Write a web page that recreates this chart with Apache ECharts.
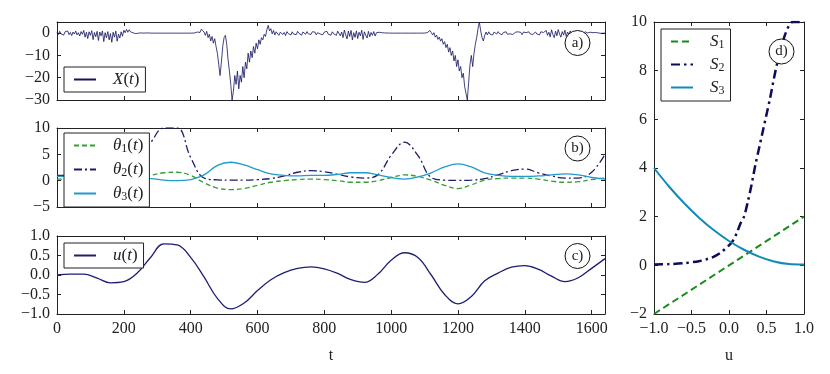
<!DOCTYPE html>
<html><head><meta charset="utf-8">
<script src="https://cdn.jsdelivr.net/npm/echarts@6/dist/echarts.min.js"></script>
<style>html,body{margin:0;padding:0;background:#fff}#c{width:830px;height:374px}</style>
</head><body><div id="c"></div>
<script>
// ---------- data ----------
const xSignalStep = 4; // sample spacing in t
const xSignal = [
 0.4,-0.6,0.8,-0.3,0.2,-0.9,0.6,-0.2,1.0,-0.7,0.3,-1.1,0.5,-0.4,0.9,-0.8,
 0.2,-1.3,0.7,-0.5,1.2,-1.8,0.4,-2.4,0.6,-1.0,1.1,-2.9,0.3,-1.6,0.8,-3.3,
 0.5,-1.2,1.0,-3.8,0.2,-2.1,0.7,-3.0,-0.2,-4.1,0.4,-1.8,0.9,-3.6,-0.5,-2.2,
 0.6,-1.4,1.3,0.2,1.7,0.4,1.5,0.6,1.0,0.1,0.7,-0.2,0.5,0.0,0.4,0.1,
 0.3,0.0,0.2,0.1,0.15,0.05,0.1,0.0,0.08,0.02,0.05,0.0,0.03,0.0,0.02,0.0,
 0.01,0,0.01,0,0,0.01,0,0,0.01,0,0,0,0.01,0,0,0,
 0,0.01,0,0,0.02,0,0.05,0.1,0.2,
 0.5,1.0,0.3,1.8,2.2,0.5,-1.0,0.8,-2.0,-0.5,
 -3.5,-1.5,-4.5,-2.5,-6.0,-9.0,-14.0,-19.0,-13.0,-6.0,
 -2.0,-1.0,-5.0,-12.0,-17.0,-23.0,-30.0,-26.0,-19.0,-23.0,
 -17.0,-25.0,-19.0,-22.0,-15.0,-20.0,-13.0,-16.0,-9.0,-13.0,
 -8.0,-11.0,-6.0,-9.0,-4.5,-7.0,-3.0,-5.0,-2.0,-3.0,
 -0.5,-1.5,1.5,3.5,1.0,
 2.0,-0.3,1.2,-0.8,0.6,1.0,-1.0,0.4,0.9,-0.6,0.3,-1.1,0.7,-0.2,0.5,-0.8,
 0.6,-0.4,0.2,-0.7,0.8,-0.1,0.4,-0.9,0.5,0.0,-0.5,0.7,-0.3,0.3,-0.6,0.6,
 -0.2,0.5,-0.8,0.2,0.6,-0.4,0.1,-0.7,0.5,-0.2,0.8,-0.5,0.3,-0.9,0.6,-0.3,
 0.4,-1.0,0.9,1.6,-1.2,0.5,-2.0,1.4,-0.8,-2.6,0.9,-1.5,1.2,-3.0,0.2,-1.9,
 1.0,-2.4,0.4,-1.2,1.3,-2.8,0.6,-0.9,-2.2,0.8,-1.6,0.3,-1.0,0.7,-1.3,0.2,
 -0.6,0.4,-0.3,0.2,-0.2,0.1,0.0,0.05,
 0,0.02,0,0.01,0,0,0.01,0,0,0.01,0,0,0,0.01,0,0,0,0.01,0,0,0,0.01,0,0,0.02,0,0.03,0.05,0.1,0.2,
 0.5,1.2,0.3,-0.8,0.2,-1.8,-0.9,-2.8,-1.8,-3.6,
 -2.5,-5.0,-3.8,-6.5,-5.0,-8.5,-6.5,-10.0,-8.0,-12.5,
 -10.0,-15.0,-12.0,-17.0,-15.0,-20.0,-18.0,-24.0,-27.0,-30.0,
 -22.0,-14.0,-10.0,-15.0,-9.0,-5.0,-2.0,2.0,5.0,1.0,
 -2.0,-3.5,-1.0,0.5,-0.8,
 0.6,-0.5,0.3,-0.8,0.5,0.0,-0.4,0.7,-0.2,0.4,-0.7,0.3,-0.1,0.6,-0.5,0.2,
 -0.3,0.5,-0.6,0.1,0.4,-0.4,0.6,-0.2,0.3,-0.7,0.5,-0.1,0.2,-0.5,0.6,-0.3,
 0.4,-0.6,0.2,0.5,-0.4,0.1,-0.8,0.6,-0.2,0.3,-0.5,1.2,-1.0,0.4,-1.7,1.5,
 -0.6,-2.0,0.9,-1.2,1.6,-0.4,-1.8,0.7,-0.9,1.3,-1.5,0.5,-0.6,1.0,-1.1,0.3,
 -0.4,0.8,-0.7,0.2,0.5,-0.5,0.3,-0.3,0.6,-0.2,0.1,-0.4,0.4,-0.1,0.2,-0.3,
 0.3,-0.2,0.1,0.2,-0.1,0.1,0.0,0.0
];
const tGrid = [0,40,80,120,160,200,240,280,320,360,400,440,480,520,560,600,640,680,720,760,800,
  840,880,920,960,1000,1040,1080,1120,1160,1200,1240,1280,1320,1360,1400,1440,1480,1520,1560,1600,1640];
const theta1 = [0.3,0.3,0.2,0.1,0.0,0.2,0.6,1.0,1.5,1.6,1.0,-0.4,-1.4,-1.7,-1.5,-0.9,-0.3,0.0,0.2,0.3,0.2,
  0.0,-0.3,-0.3,0.0,0.6,1.1,0.8,0.1,-0.9,-1.5,-0.8,0.1,0.4,0.5,0.5,0.3,-0.1,-0.3,-0.2,0.2,0.5];
const theta2 = [1.0,1.0,1.0,1.1,1.4,2.2,4.0,7.2,10,10,4.4,0.5,0.15,0.1,0.1,0.2,0.4,0.9,1.6,1.9,1.7,
  1.2,0.7,0.5,1.1,4.8,7.3,4.8,0.6,0.1,0.05,0.1,0.4,1.1,1.9,2.2,1.5,0.9,0.5,0.5,1.6,5.0];
const theta3 = [0.8,0.8,0.7,0.6,0.5,0.4,0.3,0.4,0.1,0.0,0.2,1.1,2.9,3.5,3.0,2.1,1.3,1.0,0.9,1.0,1.0,
  1.2,1.5,1.5,1.1,0.6,0.3,0.7,1.5,2.6,3.2,2.6,1.5,1.0,0.8,0.8,0.9,1.1,1.3,1.1,0.6,0.3];
const uVals = [0.0,0.02,0.02,-0.08,-0.2,-0.17,0.05,0.45,0.8,0.77,0.45,-0.05,-0.6,-0.87,-0.72,-0.4,-0.12,0.06,0.17,0.21,0.16,
  0.04,-0.12,-0.19,0.02,0.38,0.57,0.45,0.0,-0.5,-0.74,-0.55,-0.15,0.05,0.2,0.24,0.15,-0.03,-0.17,-0.07,0.17,0.42];
const s1U = [-1, 1];
const s1 = [-2, 2];
const s2U = [-1,-0.8,-0.6,-0.4,-0.3,-0.2,-0.1,0,0.05,0.1,0.15,0.2,0.25,0.3,0.35,0.4,0.45,0.5,0.55,0.6,0.65,0.7,0.75,0.8,0.85,1.0];
const s2 = [0.03,0.05,0.09,0.17,0.25,0.36,0.55,0.82,1.0,1.3,1.7,2.0,2.6,3.3,4.1,4.8,5.5,6.2,6.9,7.7,8.4,9.0,9.5,9.85,10,10];
const s3U = [-1,-0.8,-0.6,-0.4,-0.2,0,0.2,0.4,0.6,0.8,1.0];
const s3 = [4.0,3.24,2.56,1.96,1.44,1.0,0.64,0.36,0.16,0.05,0.03];
const panelTags = ['a)','b)','c)','d)'];

// ---------- chart ----------
const FONT = 'Liberation Serif';
const AX = '#222';
const minus = s => s.replace('-', '\u2212');
const fmtInt = v => minus(String(v));
const fmt1 = v => minus(v.toFixed(1));
const zip = (a, b) => a.map((v, i) => [v, b[i]]);

function xPair(g, min, max, interval, labels, fmt, name, hideMax) {
  const base = {type:'value', gridIndex:g, min, max, interval, splitLine:{show:false},
    axisLine:{show:true, onZero:false, lineStyle:{color:AX, width:1}},
    axisTick:{show:true, inside:true, length:4, lineStyle:{color:AX}}};
  return [Object.assign({}, base, {position:'bottom',
      axisLabel:{show:labels, formatter:fmt, fontFamily:FONT, fontSize:16, color:'#222', margin:7, showMaxLabel:!hideMax},
      name:name||'', nameLocation:'middle', nameGap:34, nameTextStyle:{fontFamily:FONT, fontSize:16, color:'#222'}}),
    Object.assign({}, base, {position:'top', axisLabel:{show:false}})];
}
function yPair(g, min, max, interval, fmt, hideMax) {
  const base = {type:'value', gridIndex:g, min, max, interval, splitLine:{show:false},
    axisLine:{show:true, onZero:false, lineStyle:{color:AX, width:1}},
    axisTick:{show:true, inside:true, length:4, lineStyle:{color:AX}}};
  return [Object.assign({}, base, {position:'left',
      axisLabel:{show:true, formatter:fmt, fontFamily:FONT, fontSize:16, color:'#222', margin:7, showMaxLabel:!hideMax}}),
    Object.assign({}, base, {position:'right', axisLabel:{show:false}})];
}

const xAxis = [].concat(
  xPair(0, 0, 1640, 200, false, fmtInt, '', true),
  xPair(1, 0, 1640, 200, false, fmtInt, '', true),
  xPair(2, 0, 1640, 200, true, fmtInt, 't', true),
  xPair(3, -1, 1, 0.5, true, fmt1, 'u', false)
);
const yAxis = [].concat(
  yPair(0, -30, 5, 10, fmtInt, true),
  yPair(1, -5, 10, 5, fmtInt, false),
  yPair(2, -1, 1, 0.5, fmt1, false),
  yPair(3, -2, 10, 2, fmtInt, false)
);

function line(name, g, data, color, width, type) {
  return {name, type:'line', xAxisIndex:2*g, yAxisIndex:2*g, data, symbol:'none', showSymbol:false,
    smooth: false, clip:true, animation:false,
    lineStyle:{color, width, type: type || 'solid'}, itemStyle:{color}};
}

const sigData = xSignal.map((v, i) => [i * xSignalStep, v]);
const series = [
  line('X(t)', 0, sigData, '#12125e', 0.8),
  Object.assign(line('θ1(t)', 1, zip(tGrid, theta1), '#33a033', 1.3, [5,3]), {smooth:0.4}),
  Object.assign(line('θ2(t)', 1, zip(tGrid, theta2), '#1c1c6a', 1.3, [8,3,2,3]), {smooth:0.4}),
  Object.assign(line('θ3(t)', 1, zip(tGrid, theta3), '#1f9bcc', 1.3), {smooth:0.4}),
  Object.assign(line('u(t)', 2, zip(tGrid, uVals), '#1e1e72', 1.3), {smooth:0.4}),
  line('S1', 3, zip(s1U, s1), '#198c19', 2, [7,4]),
  Object.assign(line('S2', 3, zip(s2U, s2), '#0c0c5a', 2.5, [9,4,2.5,4]), {smooth:0.3}),
  Object.assign(line('S3', 3, zip(s3U, s3), '#128ab8', 2), {smooth:0.3})
];

const labelRich = {
  i:{fontFamily:FONT, fontStyle:'italic', fontSize:17, color:'#222'},
  n:{fontFamily:FONT, fontSize:17, color:'#222'},
  s:{fontFamily:FONT, fontSize:12, color:'#222', padding:[7,0,0,0]},
  g:{width:12}
};
const legendText = {
  'X(t)':'{g|}{i|X}{n|(}{i|t}{n|)}',
  'θ1(t)':'{g|}{i|θ}{s|1}{n|(}{i|t}{n|)}',
  'θ2(t)':'{g|}{i|θ}{s|2}{n|(}{i|t}{n|)}',
  'θ3(t)':'{g|}{i|θ}{s|3}{n|(}{i|t}{n|)}',
  'u(t)':'{g|}{i|u}{n|(}{i|t}{n|)}',
  'S1':'{g|}{i|S}{s|1}',
  'S2':'{g|}{i|S}{s|2}',
  'S3':'{g|}{i|S}{s|3}'
};
function legend(names, left, top, gap) {
  return {data:names, orient:'vertical', left, top, itemWidth:22, itemHeight:10, itemGap:gap,
    padding:[4,6,4,9], borderColor:'#222', borderWidth:1, borderRadius:0, backgroundColor:'#fff',
    itemStyle:{opacity:0, borderWidth:0}, z:50,
    selectedMode:false, formatter:n => legendText[n], textStyle:{rich:labelRich, fontFamily:FONT, fontSize:17}};
}
const legends = [
  legend(['X(t)'], 64, 67, 5),
  legend(['θ1(t)','θ2(t)','θ3(t)'], 64, 133, 6),
  legend(['u(t)'], 64, 243, 5),
  legend(['S1','S2','S3'], 661, 29, 5)
];

function tag(cx, cy, txt) {
  return {type:'group', x:cx, y:cy, z:100, children:[
    {type:'circle', z:100, shape:{cx:0, cy:0, r:12.5}, style:{fill:'#fff', stroke:'#111', lineWidth:1}},
    {type:'text', z:101, style:{text:txt, x:0, y:0, align:'center', verticalAlign:'middle', font:'15px "Liberation Serif"', fill:'#222'}}
  ]};
}
const tagPos = [[577.5,43],[577.5,148.5],[577.5,256],[781.5,51.5]];

const chart = echarts.init(document.getElementById('c'), null, {renderer:'canvas'});
chart.setOption({
  animation:false,
  backgroundColor:'#fff',
  grid:[
    {left:57, top:22, width:548, height:78},
    {left:57, top:128, width:548, height:79},
    {left:57, top:236, width:548, height:78},
    {left:654, top:22, width:150, height:292}
  ],
  xAxis, yAxis, series, legend:legends,
  graphic: panelTags.map((t, i) => tag(tagPos[i][0], tagPos[i][1], t))
});
</script></body></html>
